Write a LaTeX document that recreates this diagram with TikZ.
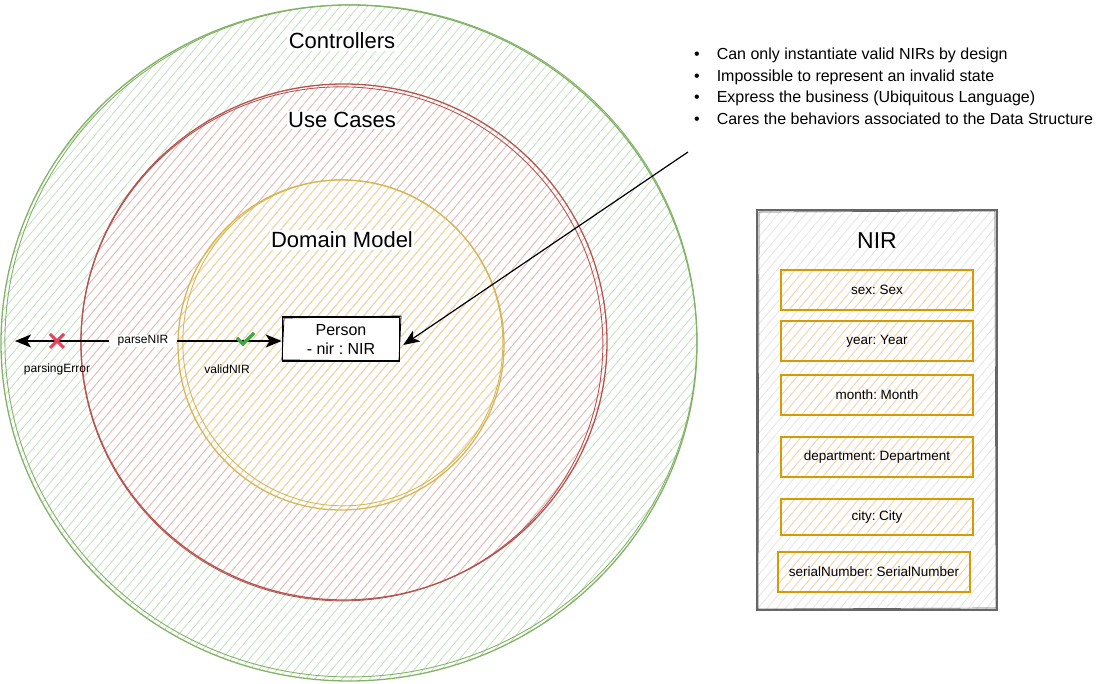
\documentclass[tikz,border=0pt]{standalone}
\usepackage{fontspec}
\setmainfont{Liberation Sans}
\frenchspacing
\usetikzlibrary{patterns.meta,arrows.meta}
\definecolor{gS}{HTML}{82B366}
\definecolor{gF}{HTML}{C2DFBD}
\definecolor{rS}{HTML}{B85450}
\definecolor{rF}{HTML}{F2BAB8}
\definecolor{yS}{HTML}{D6B656}
\definecolor{yF}{HTML}{F5DE9E}
\definecolor{oS}{HTML}{D79B00}
\definecolor{oF}{HTML}{FBD5A8}
\definecolor{kS}{HTML}{666666}
\definecolor{kF}{HTML}{E3E3E3}
\definecolor{xRed}{HTML}{E5435E}
\definecolor{okGreen}{HTML}{3DA844}
\tikzset{
  hatch/.style={pattern={Lines[angle=50,distance=7pt,line width=0.75pt]},pattern color=#1},
  ring/.style={line width=1.3pt},
  lbl/.style={fill=white,inner sep=1.5pt,font=\fontsize{22}{26}\selectfont},
  small/.style={fill=white,inner xsep=8pt,inner ysep=1pt,font=\fontsize{12}{14}\selectfont},
  field/.style={draw=oS,line width=1.6pt,hatch=oF,minimum width=192pt,minimum height=40pt,
    font=\fontsize{13.5}{16}\selectfont,inner sep=0pt},
  arr/.style={line width=1.4pt,-{Stealth[length=16pt,width=13pt,inset=4pt]}},
}
\begin{document}
\begin{tikzpicture}[x=1pt,y=-1pt]
\useasboundingbox (0,0) rectangle (1096,684);
% Controllers ring
\fill[hatch=gF] (349,343) ellipse [x radius=348pt, y radius=338pt];
\draw[gS,ring] (349,343) ellipse [x radius=348pt, y radius=338pt];
\draw[gS,line width=0.9pt,rotate around={3:(349,343)}] (351,341) ellipse [x radius=346pt, y radius=336pt];
% Use cases ring
\fill[hatch=rF] (344,342) ellipse [x radius=263pt, y radius=258pt];
\draw[rS,ring] (344,342) ellipse [x radius=263pt, y radius=258pt];
\draw[rS,line width=0.9pt,rotate around={-4:(344,342)}] (342,344) ellipse [x radius=261pt, y radius=257pt];
% Domain model ring
\fill[hatch=yF] (341,345) ellipse [x radius=163pt, y radius=165pt];
\draw[yS,ring] (341,345) ellipse [x radius=163pt, y radius=165pt];
\draw[yS,line width=0.9pt,rotate around={5:(341,345)}] (343,343) ellipse [x radius=160pt, y radius=163pt];
% ring labels
\node[lbl] (ctl) at (342,41) {Controllers};
\node[lbl] (uc) at (342,120) {Use Cases};
\node[lbl] (dm) at (342,240) {Domain Model};
% Person
\node[draw,line width=1.6pt,fill=white,minimum width=117pt,minimum height=44pt,inner sep=1pt,
  align=center,font=\fontsize{16}{19}\selectfont] (P) at (341,339) {Person\\- nir : NIR};
\draw[line width=0.8pt] (284,318) -- (401,316) -- (399,361) -- (282,360) -- cycle;
% parse arrows
\node[small] (pn) at (143,341) {parseNIR};
\coordinate (errEnd) at (15,341);
\draw[arr] (pn.west) -- (errEnd);
\draw[arr] (pn.east) -- (pn -| P.west);
\node[small,fill=none,inner sep=1pt] (pe) at (57,369) {parsingError};
\node[small,fill=none,inner sep=1pt] (vn) at (227,369) {validNIR};
\draw[xRed,line width=3pt] (50,334) -- (64,348) (50,348) -- (64,334);
\draw[okGreen,line width=3.5pt] (237,338) -- (243,344) -- (254,333);
% bullet list
\node[anchor=north west,inner sep=0pt,font=\fontsize{16}{21.7}\selectfont] (list) at (694,44)
 {\begin{tabular}{@{}l@{\hspace{17pt}}l@{}}
 \textbullet & Can only instantiate valid NIRs by design\\
 \textbullet & Impossible to represent an invalid state\\
 \textbullet & Express the business (Ubiquitous Language)\\
 \textbullet & Cares the behaviors associated to the Data Structure
 \end{tabular}};
\coordinate (ptr) at (688,152);
\draw[arr,line width=1.2pt] (ptr) -- ([xshift=3pt,yshift=-6pt]P.east);
% NIR box
\node[draw=kS,line width=1.5pt,hatch=kF,minimum width=240pt,minimum height=400pt] (nir) at (877,410) {};
\draw[kS,line width=0.7pt] (759,212) -- (995,211) -- (996,608) -- (758,609) -- cycle;
\node[font=\fontsize{23}{26}\selectfont] (nirT) at (877,241) {NIR};
\node[field] (f1) at (877,290) {sex: Sex};
\node[field] (f2) at (877,341) {year: Year};
\node[field] (f3) at (877,395) {month: Month};
\node[field] (f4) at (877,457) {department: Department};
\node[field,minimum height=36pt] (f5) at (877,517) {city: City};
\node[field,minimum height=40pt] (f6) at (874,572) {serialNumber: SerialNumber};
\end{tikzpicture}
\end{document}
